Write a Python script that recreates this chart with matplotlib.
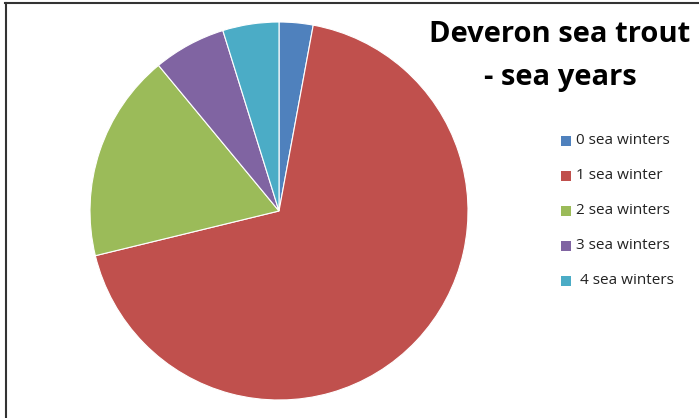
import matplotlib.pyplot as plt
from matplotlib.patches import Rectangle
from matplotlib.lines import Line2D

# Data
labels = ["0 sea winters", "1 sea winter", "2 sea winters", "3 sea winters", " 4 sea winters"]
shares = [2.9, 68.3, 17.8, 6.2, 4.8]
colors = ["#4F81BD", "#C0504D", "#9BBB59", "#8064A2", "#4BACC6"]

W, H = 699, 418
fig = plt.figure(figsize=(W / 100, H / 100), dpi=100)

# Pie
cx, cy, r = 279, 211, 189
ax = fig.add_axes([(cx - r) / W, (H - cy - r) / H, 2 * r / W, 2 * r / H])
ax.pie(shares, colors=colors, startangle=90, counterclock=False,
       wedgeprops=dict(edgecolor="white", linewidth=0.8))
ax.set_xlim(-1, 1)
ax.set_ylim(-1, 1)
ax.set_aspect("equal")
ax.axis("off")

# Title
fig.text(560 / W, 1 - 35 / H, "Deveron sea trout", ha="center", va="center",
         fontsize=21, fontweight="bold", family="Open Sans")
fig.text(560 / W, 1 - 77 / H, "- sea years", ha="center", va="center",
         fontsize=21, fontweight="bold", family="Open Sans")

# Legend
for i, (lab, col) in enumerate(zip(labels, colors)):
    y = 140.5 + 35 * i
    fig.patches.append(Rectangle((561 / W, 1 - (y + 5) / H), 10 / W, 10 / H,
                                 transform=fig.transFigure, facecolor=col,
                                 edgecolor="none"))
    fig.text(576 / W, 1 - y / H, lab, ha="left", va="center", fontsize=11,
             family="Open Sans", color="#222222")

# Chart frame
fig.add_artist(Line2D([5 / W, 1], [1 - 3 / H, 1 - 3 / H], transform=fig.transFigure,
                      color="#333333", linewidth=1.5))
fig.add_artist(Line2D([5.5 / W, 5.5 / W], [0, 1 - 3 / H], transform=fig.transFigure,
                      color="#333333", linewidth=1.5))

fig.savefig("out.png", dpi=100)
